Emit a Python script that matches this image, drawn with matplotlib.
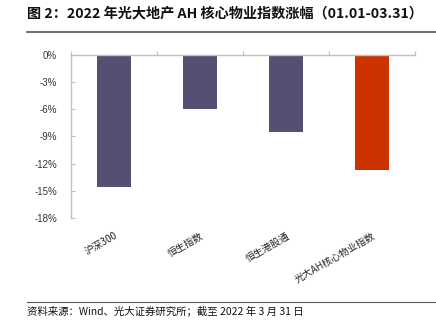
import numpy as np
import matplotlib.pyplot as plt
from matplotlib.lines import Line2D

plt.rcParams['font.family'] = ['Noto Sans CJK SC', 'DejaVu Sans']

# data
categories = ["沪深300", "恒生指数", "恒生港股通", "光大AH核心物业指数"]
changes = [-14.6, -6.0, -8.5, -12.7]
colors = ["#544F73", "#544F73", "#544F73", "#CC3300"]
yticks = [0, -3, -6, -9, -12, -15, -18]

title = "图 2：2022 年光大地产 AH 核心物业指数涨幅（01.01-03.31）"
source = "资料来源：Wind、光大证券研究所；截至 2022 年 3 月 31 日"

fig = plt.figure(figsize=(4.36, 3.25), dpi=100)
ax = fig.add_axes([0.163, 0.329, 0.789, 0.503])

x = np.arange(len(categories))
ax.bar(x, changes, width=0.4, color=colors)

ax.set_xlim(-0.5, len(categories) - 0.5)
ax.set_ylim(-18, 0)
ax.set_yticks(yticks)
ax.set_yticklabels([f"{v}%" for v in yticks], family=['Liberation Sans', 'DejaVu Sans'],
                   fontsize=7, color='#333333')

ax.set_xticks(x)
ax.set_xticklabels(categories, rotation=30, ha='right', rotation_mode='anchor',
                   fontsize=7, color='#222222')
ax.set_xticks(np.arange(len(categories) + 1) - 0.5, minor=True)
ax.tick_params(axis='x', which='major', bottom=True, top=False, length=0, pad=9)
ax.tick_params(axis='x', which='minor', bottom=False, top=True, direction='out',
               length=3, color='#BFBFBF', width=0.8)
ax.tick_params(axis='y', which='major', direction='in', length=3, color='#BFBFBF',
               width=0.8, pad=10)

for s in ['bottom', 'right']:
    ax.spines[s].set_visible(False)
for s in ['top', 'left']:
    ax.spines[s].set_color('#BFBFBF')
    ax.spines[s].set_linewidth(1.0)

fig.text(27 / 436, 1 - 13 / 325, title, fontsize=10.2, fontweight='bold',
         va='center', ha='left', color='#111111')
fig.add_artist(Line2D([27 / 436, 1.0], [1 - 32 / 325, 1 - 32 / 325],
                      color='#555555', lw=1.2))
fig.add_artist(Line2D([27 / 436, 1.0], [1 - 302 / 325, 1 - 302 / 325],
                      color='#555555', lw=0.8))
fig.text(27 / 436, 1 - 311 / 325, source, fontsize=7.5, va='center', ha='left',
         color='#111111')

fig.savefig("out.png", dpi=100)
